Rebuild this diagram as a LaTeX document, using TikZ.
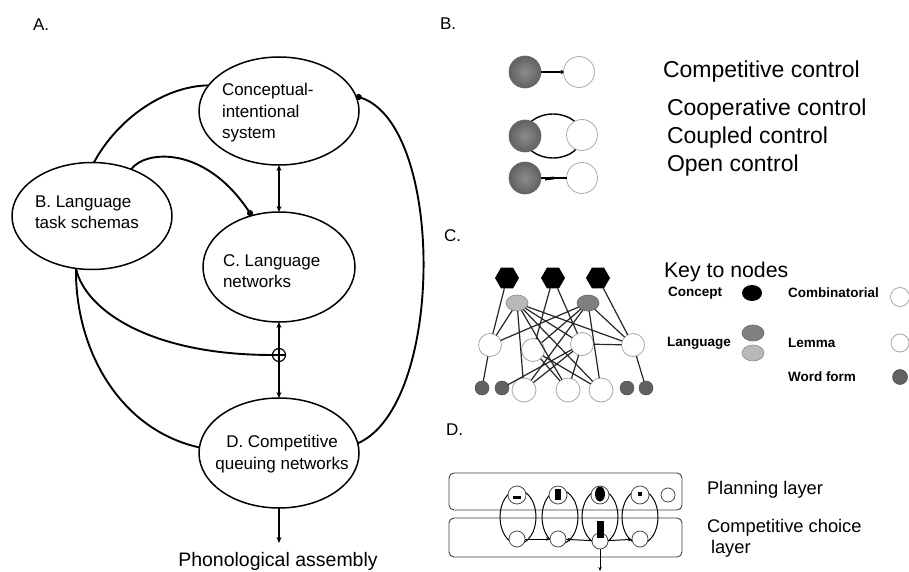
\documentclass[tikz,border=0pt]{standalone}
\usepackage{fontspec}
\setmainfont{Liberation Sans}
\usetikzlibrary{shapes.geometric,arrows.meta}
\begin{document}
\begin{tikzpicture}[x=1pt,y=-1pt,
  every node/.style={inner sep=0pt, outer sep=0pt},
  bigell/.style={ellipse, draw, line width=1.5pt},
  etext/.style={font=\fontsize{17}{21.5}\selectfont, align=left},
  ptext/.style={font=\fontsize{17}{20}\selectfont, anchor=west},
  btext/.style={font=\fontsize{23}{26}\selectfont, anchor=west},
  ktext/.style={font=\fontsize{13.5}{15}\selectfont\bfseries, anchor=west},
  dtext/.style={font=\fontsize{18.3}{20}\selectfont, anchor=west},
  conn/.style={line width=1.9pt},
  dot/.style={-{Circle[length=6pt,width=6pt]}},
  dbl/.style={line width=1.5pt, {Stealth[length=6pt,width=5pt]}-{Stealth[length=6pt,width=5pt]}},
  dark/.style={circle, minimum size=32pt, shading=radial, inner color=black!45, outer color=black!62, draw=black!60, line width=0.6pt},
  whitec/.style={circle, minimum size=31pt, fill=white, draw=gray!65, line width=0.8pt},
  hexa/.style={regular polygon, regular polygon sides=6, minimum size=24pt, fill=black},
  langa/.style={ellipse, minimum width=22pt, minimum height=16pt, fill=black!28, draw=black!45, line width=0.6pt},
  langb/.style={ellipse, minimum width=22pt, minimum height=16pt, fill=black!50, draw=black!60, line width=0.6pt},
  comb/.style={circle, minimum size=23pt, fill=white, draw=gray!70, line width=0.8pt},
  lem/.style={circle, minimum size=24pt, fill=white, draw=gray!70, line width=0.8pt},
  wf/.style={circle, minimum size=14pt, fill=black!62, draw=black!70, line width=0.5pt},
  net/.style={line width=1.2pt, draw=black!85},
  layerbox/.style={rectangle, rounded corners=5pt, draw=black!75, line width=0.9pt},
  loopell/.style={ellipse, draw, line width=1pt, minimum width=36pt, minimum height=54pt},
  topc/.style={circle, minimum size=18pt, fill=white, draw=black!70, line width=0.8pt},
  botc/.style={circle, minimum size=16pt, fill=white, draw=black!70, line width=0.8pt},
  sarr/.style={line width=1pt, -{Stealth[length=4pt,width=3.5pt]}}
]
\path[use as bounding box, fill=white] (0,0) rectangle (909,572);

% ---------- Panel A ----------
\node[ptext] (la) at (33,25) {A.};
\node[bigell, minimum width=160pt, minimum height=108pt] (ci) at (279,111) {};
\node[bigell, minimum width=160pt, minimum height=107pt] (lts) at (92,216) {};
\node[bigell, minimum width=152pt, minimum height=110pt] (ln) at (279,267) {};
\node[bigell, minimum width=160pt, minimum height=110pt] (cq) at (279,453) {};
\node[etext, anchor=west] (cit) at (222,113) {Conceptual-\\intentional\\system};
\node[etext, anchor=west] (ltst) at (35,212) {B. Language\\task schemas};
\node[etext, anchor=west] (lnt) at (223,271) {C. Language\\networks};
\node[etext, align=center] (cqt) at (282,454) {D. Competitive\\queuing networks};
\node[font=\fontsize{19.5}{22}\selectfont] (pa) at (278,561) {Phonological assembly};
\coordinate (pae) at (279,543);

\node[circle, draw, line width=1.2pt, minimum size=13pt] (op) at (279,355) {};
\draw[line width=1.2pt] (op.west) -- (op.east);

\draw[conn] (lts.88) .. controls (118,118) and (165,86) .. (ci.160);
\draw[conn, dot] (lts.50) .. controls (145,150) and (205,145) .. (ln.118);
\draw[conn, {Circle[length=6pt,width=6pt]}-] (ci.11) .. controls (445,125) and (445,405) .. (cq.7);
\draw[dbl] (ci.south) -- (ln.north);
\draw[dbl] (ln.south) -- (cq.north);
\draw[conn] (lts.253) .. controls (85,310) and (150,355) .. (op.west);
\draw[conn] (lts.253) .. controls (75,350) and (120,430) .. (cq.176);
\draw[line width=1.5pt, -{Stealth[length=6pt,width=5pt]}] (cq.south) -- (pae);

% ---------- Panel B ----------
\node[ptext] (lb) at (440,24) {B.};
\node[dark] (b1d) at (525,72) {};
\node[whitec] (b1w) at (579,72) {};
\draw[line width=1.3pt, -{Circle[length=3.5pt,width=3.5pt]}] (b1d) -- (b1w);

\node[ellipse, draw, line width=1.4pt, minimum width=58pt, minimum height=44pt] (cpl) at (553,136) {};
\node[dark] (b2d) at (525,136) {};
\node[whitec] (b2w) at (582,135) {};

\node[dark] (b3d) at (525,178) {};
\node[whitec] (b3w) at (582,178) {};
\draw[line width=1.1pt] (b3d) -- (b3w);
\draw[line width=2.8pt] ([xshift=4pt,yshift=-1pt]b3d.east) -- ([xshift=13pt,yshift=0pt]b3d.east);

\node[btext] (t1) at (663,72) {Competitive control};
\node[btext] (t2) at (667,110) {Cooperative control};
\node[btext] (t3) at (667,138) {Coupled control};
\node[btext] (t4) at (667,166) {Open control};

% ---------- Panel C ----------
\node[ptext] (lc) at (444,236) {C.};
\node[hexa] (c1) at (507,278) {};
\node[hexa] (c2) at (553,278) {};
\node[hexa] (c3) at (598,278) {};
\node[langa] (l1) at (517,303) {};
\node[langb] (l2) at (588,303) {};
\node[comb] (m1) at (490,345) {};
\node[comb] (m2) at (533,350) {};
\node[comb] (m3) at (582,344) {};
\node[comb] (m4) at (633,345) {};
\node[wf] (w1) at (482,388) {};
\node[wf] (w2) at (502,388) {};
\node[lem] (n1) at (524,390) {};
\node[lem] (n2) at (568,390) {};
\node[lem] (n3) at (601,390) {};
\node[wf] (w3) at (627,388) {};
\node[wf] (w4) at (646,388) {};

\draw[net] (c1) -- (m1);
\draw[net] (c2) -- (m2);
\draw[net] (c2) -- (m3);
\draw[net] (c3) -- (m4);
\draw[net] (l1) -- (m1);
\draw[net] (l1) -- (m3);
\draw[net] (l1) -- (m4);
\draw[net] (l1) -- (n1);
\draw[net] (l1) -- (n2);
\draw[net] (l1) -- (n3);
\draw[net] (l2) -- (m2);
\draw[net] (l2) -- (m1);
\draw[net] (l2) -- (m4);
\draw[net] (l2) -- (n1);
\draw[net] (l2) -- (n3);
\draw[net] (m1) -- (w1);
\draw[net] (m4) -- (w4);
\draw[net] (m3) -- (m4);
\draw[net] (m2) -- (n2);
\draw[net] (m2) -- (n3);
\draw[net] (m3) -- (n1);
\draw[net] (m3) -- (n2);
\draw[net] (w2) -- (m3);

\node[font=\fontsize{21.3}{24}\selectfont, anchor=west] (key) at (664,272) {Key to nodes};
\node[ktext] (kc) at (668,293) {Concept};
\node[ellipse, fill=black, minimum width=20pt, minimum height=16pt] (kcs) at (752,293) {};
\node[ktext] (kb) at (788,293) {Combinatorial};
\node[circle, draw=gray!70, line width=0.8pt, minimum size=19pt] (kbs) at (900,297) {};
\node[ktext] (kl) at (667,343) {Language};
\node[langb] (kls1) at (753,333) {};
\node[langa] (kls2) at (753,353) {};
\node[ktext] (km) at (788,343) {Lemma};
\node[circle, draw=gray!70, line width=0.8pt, minimum size=18pt] (kms) at (900,343) {};
\node[ktext] (kw) at (788,377) {Word form};
\node[wf, minimum size=15pt] (kws) at (900,377) {};

% ---------- Panel D ----------
\node[ptext] (ld) at (446,430) {D.};
\node[layerbox, minimum width=233pt, minimum height=37pt] (plan) at (565.5,491.5) {};
\node[layerbox, minimum width=233pt, minimum height=39pt] (comp) at (565.5,537.5) {};

\node[loopell] (e1) at (518,517) {};
\node[loopell] (e2) at (560,517) {};
\node[loopell] (e3) at (600,517) {};
\node[loopell] (e4) at (640,517) {};

\node[topc] (p1) at (517,495) {};
\node[topc] (p2) at (558,495) {};
\node[topc] (p3) at (600,495) {};
\node[topc] (p4) at (640,495) {};
\node[circle, draw=black!70, line width=0.8pt, minimum size=14pt] (p5) at (668,495) {};
\fill (513,496) rectangle (521,499);
\fill (555,489) rectangle (561,500);
\node[ellipse, fill=black, minimum width=10pt, minimum height=15pt] (p3i) at (600,494) {};
\fill (638,492) rectangle (642,496);

\node[botc] (q1) at (517,539) {};
\node[botc] (q2) at (558,539) {};
\node[botc] (q3) at (600,541) {};
\node[botc] (q4) at (640,539) {};
\fill (597,521) rectangle (604,538);
\coordinate (qout) at (600,571);
\draw[sarr] (q1) -- (q2);
\draw[sarr] (q3) -- (q2);
\draw[sarr] (q3) -- (q4);
\draw[sarr] (q3) -- (qout);

\node[dtext] (d1) at (707,490) {Planning layer};
\node[dtext] (d2) at (707,528) {Competitive choice};
\node[dtext] (d3) at (711,549) {layer};
\end{tikzpicture}
\end{document}
